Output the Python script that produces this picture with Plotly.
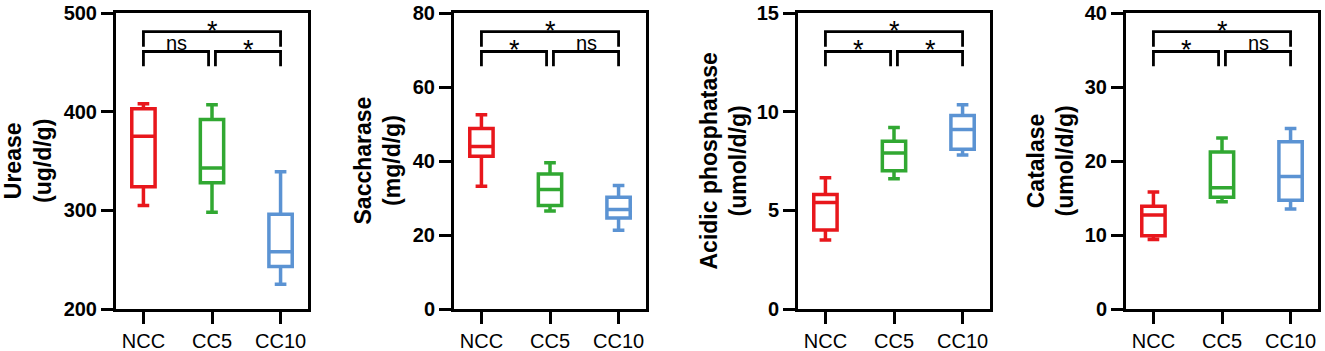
import plotly.graph_objects as go

# ---------------- data ----------------
categories = ["NCC", "CC5", "CC10"]
colors = ["#E8171C", "#31A832", "#5B93D3"]

panel_titles = ["Urease<br>(ug/d/g)", "Saccharase<br>(mg/d/g)",
                "Acidic phosphatase<br>(umol/d/g)", "Catalase<br>(umol/d/g)"]
y_ranges = [[200, 500], [0, 80], [0, 15], [0, 40]]
y_dticks = [100, 20, 5, 10]

# [lower whisker, Q1, median, Q3, upper whisker] per group
urease = [[305, 324, 375, 403, 408], [298, 328, 343, 392, 407], [225, 243, 258, 296, 339]]
saccharase = [[33.2, 41.3, 43.9, 48.8, 52.5], [26.5, 28.0, 32.3, 36.5, 39.5], [21.3, 24.6, 26.9, 30.2, 33.4]]
acid_phos = [[3.5, 4.0, 5.4, 5.8, 6.65], [6.6, 7.0, 7.9, 8.5, 9.2], [7.8, 8.1, 9.1, 9.8, 10.35]]
catalase = [[9.4, 9.9, 12.7, 13.9, 15.8], [14.5, 15.1, 16.4, 21.2, 23.1], [13.5, 14.7, 17.9, 22.6, 24.4]]
panels = [urease, saccharase, acid_phos, catalase]

# significance: pairs (group a, group b) and labels per panel
sig_pairs = [(0, 1), (1, 2), (0, 2)]
sig_labels = [["ns", "*", "*"], ["*", "ns", "*"], ["*", "*", "*"], ["*", "ns", "*"]]

# ---------------- layout geometry ----------------
W, H = 1325, 351
x_domains_px = [(116, 308), (454, 646), (798, 990), (1126, 1318)]
title_shift = [88, 76.5, 74.5, 75.5]
FONT = "Liberation Sans, Arial"

fig = go.Figure()
layout = dict(
    width=W, height=H, autosize=False,
    margin=dict(l=0, r=0, t=13, b=42, pad=0),
    paper_bgcolor="white", plot_bgcolor="white",
    showlegend=False,
)
shapes = []
annotations = []

for p, data in enumerate(panels):
    xa = "x" if p == 0 else f"x{p+1}"
    ya = "y" if p == 0 else f"y{p+1}"
    for g, vals in enumerate(data):
        lo, q1, med, q3, hi = vals
        fig.add_trace(go.Box(
            x=[g], q1=[q1], median=[med], q3=[q3], lowerfence=[lo], upperfence=[hi],
            orientation="v", width=0.34, whiskerwidth=0.5,
            line=dict(color=colors[g], width=3.5), fillcolor="rgba(255,255,255,0)",
            boxpoints=False, xaxis=xa, yaxis=ya, hoverinfo="skip",
        ))
    d0, d1 = x_domains_px[p]
    axis_common = dict(showline=True, linecolor="black", linewidth=3, mirror=True,
                       ticks="outside", ticklen=12, tickwidth=3, tickcolor="black",
                       showgrid=False, zeroline=False)
    layout["xaxis" if p == 0 else f"xaxis{p+1}"] = dict(
        domain=[d0 / W, d1 / W], anchor=ya, range=[-0.4, 2.4],
        tickmode="array", tickvals=[0, 1, 2], ticktext=categories,
        tickfont=dict(family=FONT, size=20, color="black"),
        **axis_common)
    layout["yaxis" if p == 0 else f"yaxis{p+1}"] = dict(
        domain=[0, 1], anchor=xa, range=y_ranges[p], dtick=y_dticks[p], tick0=0,
        tickfont=dict(family=FONT, size=20, color="black", weight="bold"),
        **axis_common)

    # axis title
    annotations.append(dict(
        text=panel_titles[p], xref=f"{xa} domain", yref=f"{ya} domain",
        x=0, y=0.5, xanchor="center", yanchor="middle", xshift=-title_shift[p],
        textangle=-90, showarrow=False,
        font=dict(family=FONT, size=23, color="black", weight="bold"),
    ))

    # significance brackets
    for (a, b), lab in zip(sig_pairs, sig_labels[p]):
        span = b - a
        if span == 2:
            lev, leg = 0.937, 0.886
            xa0, xb0 = a, b
        else:
            lev, leg = 0.870, 0.820
            xa0 = a + (0.05 if a == 1 else 0)
            xb0 = b - (0.05 if b == 1 else 0)
        shapes.append(dict(
            type="path", xref=xa, yref=f"{ya} domain",
            path=f"M {xa0},{leg} L {xa0},{lev} L {xb0},{lev} L {xb0},{leg}",
            line=dict(color="black", width=2.8), layer="above",
        ))
        is_star = lab == "*"
        annotations.append(dict(
            text=lab, xref=xa, yref=f"{ya} domain", x=(xa0 + xb0) / 2, y=lev,
            xanchor="center", yanchor="bottom",
            yshift=(-16 if is_star else -5), showarrow=False,
            font=dict(family=FONT, size=(27 if is_star else 20), color="black"),
        ))

layout["shapes"] = shapes
layout["annotations"] = annotations
fig.update_layout(**layout)
fig.write_html("out.html", config={"displayModeBar": False},
               post_script="document.body.style.margin='0';document.body.style.overflow='hidden';")
